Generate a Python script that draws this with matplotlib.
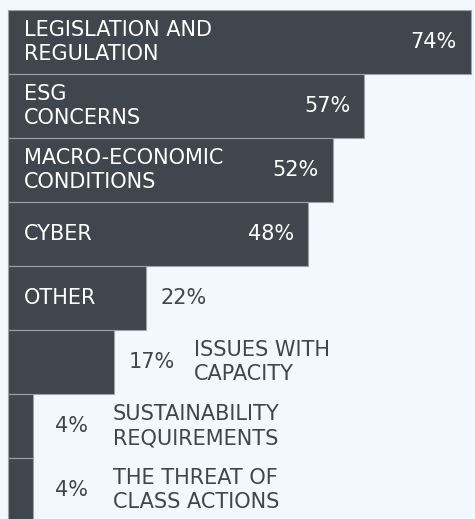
import matplotlib
matplotlib.use("Agg")
import matplotlib.pyplot as plt

# data (top to bottom)
categories = ["LEGISLATION AND\nREGULATION", "ESG\nCONCERNS", "MACRO-ECONOMIC\nCONDITIONS",
              "CYBER", "OTHER", "ISSUES WITH\nCAPACITY", "SUSTAINABILITY\nREQUIREMENTS",
              "THE THREAT OF\nCLASS ACTIONS"]
values = [74, 57, 52, 48, 22, 17, 4, 4]

BG = "#f3f7fe"
BAR = "#40464e"
PX = 6.25          # pixels per percent
FS = 15
FONT = "DejaVu Sans"

fig = plt.figure(figsize=(4.75, 5.19), dpi=100, facecolor=BG)
ax = fig.add_axes([0, 0, 1, 1], facecolor=BG)

ys = list(range(len(values)))
ax.barh(ys, values, height=0.985, color=BAR, edgecolor="#9ea2a7", lw=0.8)

for y, v, lab in zip(ys, values, categories):
    txt = dict(fontsize=FS, family=FONT, va="center")
    # category label: inside wide enough bars, else right of the value
    if v >= 20:
        ax.text(16 / PX, y, lab, color="white", ha="left", linespacing=1.3, **txt)
    else:
        ax.text(v + 80 / PX, y, lab, color=BAR, ha="left", linespacing=1.3, **txt)
    # value label
    if v >= 40:
        ax.text(v - 37 / PX, y, f"{v}%", color="white", ha="center", **txt)
    else:
        ax.text(v + 38 / PX, y, f"{v}%", color=BAR, ha="center", **txt)

ax.set_xlim(-8 / PX, (475 - 8) / PX)
ax.set_ylim((519 - 42) / 64, -42 / 64)
ax.axis("off")

fig.savefig("out.png", dpi=100, facecolor=BG)
